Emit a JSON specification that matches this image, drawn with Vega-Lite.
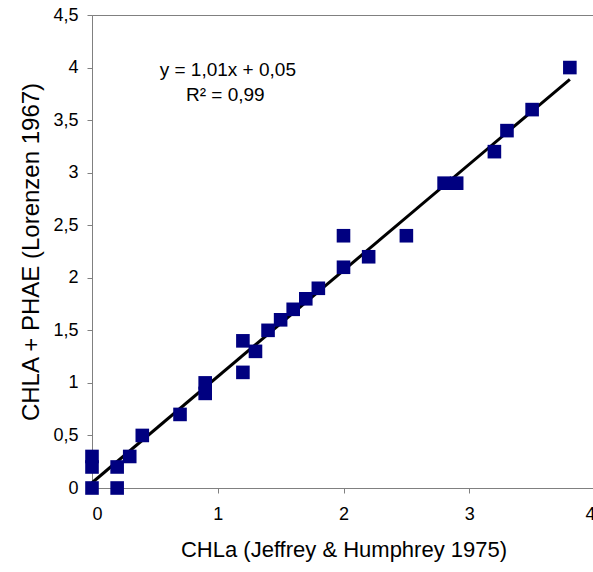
{
  "$schema": "https://vega.github.io/schema/vega-lite/v6.json",
  "autosize": "none",
  "width": 503,
  "height": 473,
  "padding": {"left": 92, "top": 15, "right": 0, "bottom": 84},
  "background": "white",
  "config": {
    "font": "Liberation Sans",
    "view": {"stroke": "#808080", "strokeWidth": 1},
    "axis": {
      "grid": false,
      "domainColor": "#808080",
      "tickColor": "#808080",
      "tickSize": 5,
      "labelFont": "Liberation Sans",
      "labelFontSize": 18,
      "labelColor": "black",
      "titleFont": "Liberation Sans",
      "titleFontWeight": "normal",
      "titleColor": "black"
    }
  },
  "datasets": {
    "points": [
      {"x": 0, "y": 0},
      {"x": 0, "y": 0.3},
      {"x": 0, "y": 0.2},
      {"x": 0.2, "y": 0},
      {"x": 0.2, "y": 0.2},
      {"x": 0.3, "y": 0.3},
      {"x": 0.4, "y": 0.5},
      {"x": 0.7, "y": 0.7},
      {"x": 0.9, "y": 1.0},
      {"x": 0.9, "y": 0.9},
      {"x": 1.2, "y": 1.4},
      {"x": 1.2, "y": 1.1},
      {"x": 1.3, "y": 1.3},
      {"x": 1.4, "y": 1.5},
      {"x": 1.5, "y": 1.6},
      {"x": 1.6, "y": 1.7},
      {"x": 1.7, "y": 1.8},
      {"x": 1.8, "y": 1.9},
      {"x": 2.0, "y": 2.4},
      {"x": 2.0, "y": 2.1},
      {"x": 2.2, "y": 2.2},
      {"x": 2.5, "y": 2.4},
      {"x": 2.8, "y": 2.9},
      {"x": 2.9, "y": 2.9},
      {"x": 3.2, "y": 3.2},
      {"x": 3.3, "y": 3.4},
      {"x": 3.5, "y": 3.6},
      {"x": 3.8, "y": 4.0}
    ],
    "trend": [
      {"x": 0, "y": 0.05},
      {"x": 3.8, "y": 3.888}
    ],
    "labels": [
      {"x": 1.08, "y": 3.98, "text": "y = 1,01x + 0,05"},
      {"x": 1.06, "y": 3.74, "text": "R² = 0,99"}
    ]
  },
  "layer": [
    {
      "data": {"name": "trend"},
      "mark": {"type": "line", "color": "black", "strokeWidth": 3},
      "encoding": {
        "x": {
          "field": "x", "type": "quantitative",
          "scale": {"domain": [0, 4], "nice": false, "zero": false},
          "axis": {
            "title": "CHLa (Jeffrey & Humphrey 1975)",
            "titleFontSize": 22,
            "values": [0, 1, 2, 3, 4],
            "format": "~g",
            "labelExpr": "replace(datum.label, '.', ',')",
            "labelPadding": 12,
            "titlePadding": 16
          }
        },
        "y": {
          "field": "y", "type": "quantitative",
          "scale": {"domain": [0, 4.5], "nice": false, "zero": false},
          "axis": {
            "title": "CHLA + PHAE  (Lorenzen 1967)",
            "titleFontSize": 24,
            "values": [0, 0.5, 1, 1.5, 2, 2.5, 3, 3.5, 4, 4.5],
            "format": "~g",
            "labelExpr": "replace(datum.label, '.', ',')",
            "labelPadding": 9,
            "titlePadding": 9
          }
        }
      }
    },
    {
      "data": {"name": "points"},
      "mark": {"type": "point", "shape": "square", "filled": true, "size": 185, "color": "#000080", "opacity": 1},
      "encoding": {
        "x": {"field": "x", "type": "quantitative"},
        "y": {"field": "y", "type": "quantitative"}
      }
    },
    {
      "data": {"name": "labels"},
      "mark": {"type": "text", "font": "Liberation Sans", "fontSize": 19, "color": "black", "align": "center", "baseline": "middle"},
      "encoding": {
        "x": {"field": "x", "type": "quantitative"},
        "y": {"field": "y", "type": "quantitative"},
        "text": {"field": "text", "type": "nominal"}
      }
    }
  ]
}
